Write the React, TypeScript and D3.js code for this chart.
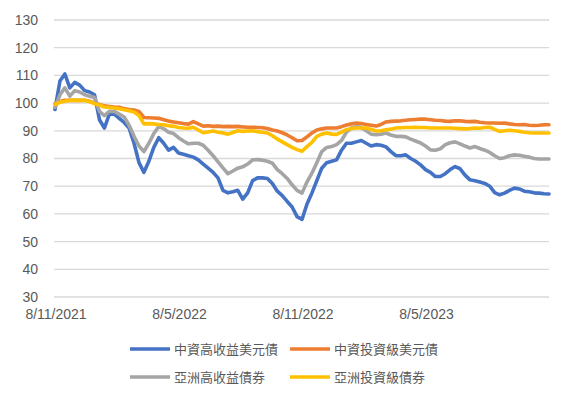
import React from "react";
import * as d3 from "d3";

const tickLabels = ["8/11/2021", "8/5/2022", "8/11/2022", "8/5/2023"];
const tickIndex = [0, 25, 50, 75];
const yTicks = [30, 40, 50, 60, 70, 80, 90, 100, 110, 120, 130];

const seriesNames = ["中資高收益美元債", "中資投資級美元債", "亞洲高收益債券", "亞洲投資級債券"];
const seriesColors = ["#4472C4", "#ED7D31", "#A5A5A5", "#FFC000"];

const cnHighYield = [
  97.7, 108, 110.5, 105.5, 107.5, 106.5, 104.5, 104, 103, 94,
  91, 96, 96, 94.5, 93, 91, 85.5, 78.5, 75, 79,
  84, 87.5, 85.5, 83, 84, 82, 81.5, 81, 80.5, 79.5,
  78, 76.5, 75, 73, 68.5, 67.6, 68, 68.5, 65.3, 67.6,
  72, 73, 73, 72.8, 71, 68.2, 66.6, 64.5, 62.5, 59,
  58, 63.5, 67.5, 72, 76.5, 78.5, 79, 79.5, 83, 85.5,
  85.5, 86, 86.5, 85.5, 84.5, 85, 84.8, 84.2, 82.5, 81,
  81, 81.3, 80, 79, 77.7, 76, 75, 73.5, 73.5, 74.5,
  76, 77.1, 76.3, 74, 72.3, 72, 71.5, 71, 70, 67.7,
  66.9, 67.5, 68.5, 69.3, 69, 68.2, 68, 67.6, 67.5, 67.3, 67.2,
];
const cnInvGrade = [
  99.8, 100.6, 101, 101, 101, 101, 101, 100.7, 100, 99.5,
  99, 98.8, 98.6, 98.5, 98, 97.7, 97.5, 97, 94.8, 94.7,
  94.6, 94.5, 94, 93.5, 93.2, 92.9, 92.6, 92.4, 93.3, 92.5,
  91.7, 91.8, 91.6, 91.7, 91.5, 91.6, 91.5, 91.6, 91.4, 91.3,
  91.3, 91.2, 91.1, 90.8, 90.3, 89.9, 89.3, 88.5, 87.5, 86.4,
  86.5, 87.8, 89.2, 90.3, 90.7, 91, 91, 91, 91.5, 92.1,
  92.5, 92.8, 92.6, 92.3, 92, 91.7, 92.3, 93.2, 93.4, 93.5,
  93.6, 93.8, 94, 94.1, 94.2, 94.2, 94, 93.8, 93.7, 93.5,
  93.4, 93.6, 93.6, 93.4, 93.3, 93.4, 93.1, 92.9, 92.8, 92.8,
  92.7, 92.8, 92.5, 92.3, 92.2, 92.3, 92, 91.9, 92, 92.2, 92.2,
];
const asiaHighYield = [
  98.5, 103, 105.5, 102.5, 104.5, 104, 103, 102.5, 102, 97,
  95.5, 97, 97, 96, 95, 92, 88, 84.5, 82.5, 85.5,
  89, 91.5, 90.8, 89.5, 89, 87.5, 86.3, 85.3, 85.5, 85.5,
  84.8, 83, 81, 78.8, 76.6, 74.5, 75.5, 76.5, 77, 78,
  79.5, 79.6, 79.4, 79, 78.3, 76, 74.5, 72.8, 70.5, 68.5,
  67.5, 71.5, 74.7, 78.5, 82.5, 84, 84.3, 85, 86.5, 89.5,
  91, 91.5, 91.2, 90, 88.8, 88.6, 88.8, 89.2, 88.5, 88,
  88, 87.8, 87, 86.3, 85.6, 84.5, 83.1, 83, 83.5, 85,
  85.7, 86, 85.3, 84.5, 83.8, 84.3, 83.6, 83, 82.2, 81,
  80, 80.3, 81, 81.3, 81.2, 80.8, 80.5, 80, 79.8, 79.8, 79.8,
];
const asiaInvGrade = [
  99.5, 100.3, 100.7, 101, 101, 101, 101, 100.5, 99.8, 99.3,
  98.6, 98.4, 98.2, 98, 97.6, 97.2, 96.8, 95.5, 92.5, 92.6,
  92.5, 92.3, 92.2, 91.8, 91.6, 91.2, 91, 90.9, 91.3, 90.3,
  89.3, 89.6, 89.9, 89.5, 89.2, 88.8, 89.4, 90, 89.8, 89.9,
  90, 89.7, 89.5, 89.2, 88.2, 87, 86, 85, 84, 83.2,
  82.6, 84.3, 85.8, 88, 88.8, 89.2, 88.8, 88.7, 89.5, 90.4,
  90.8, 91, 91, 91, 90.5, 89.9, 90, 90.4, 90.6, 91,
  91.1, 91.2, 91.2, 91.3, 91.2, 91.2, 91, 91, 91, 91,
  91, 90.9, 90.8, 90.7, 90.8, 91, 90.9, 91.2, 91.3, 90.5,
  89.8, 90, 90.2, 90, 89.8, 89.5, 89.3, 89.2, 89.2, 89.2, 89.2,
];

const allSeries = [cnHighYield, cnInvGrade, asiaHighYield, asiaInvGrade];

export default function App() {
  const W = 570, H = 401;
  const x = d3.scaleLinear().domain([0, cnHighYield.length - 1]).range([55, 549]);
  const y = d3.scaleLinear().domain([30, 130]).range([297, 20]);
  const line = d3
    .line<number>()
    .x((_, i) => x(i))
    .y((d) => y(d));
  const font = "'Liberation Sans', Arial, sans-serif";
  const cjk = "'Noto Sans CJK TC', 'Noto Sans CJK SC', sans-serif";
  const legendPos = [
    { x: 130, y: 349 },
    { x: 290, y: 349 },
    { x: 130, y: 377 },
    { x: 290, y: 377 },
  ];
  return (
    <svg width={W} height={H} style={{ position: "absolute", left: 0, top: 0, background: "#fff" }}>
      {yTicks.map((t) => (
        <g key={t}>
          <line x1={54} x2={549} y1={y(t)} y2={y(t)} stroke="#d9d9d9" strokeWidth={1.3} />
          <text x={38} y={y(t)} dy="0.35em" textAnchor="end" fontFamily={font} fontSize={14} fill="#595959">
            {t}
          </text>
        </g>
      ))}
      {tickIndex.map((ti, k) => (
        <text key={k} x={x(ti) + 1} y={319} textAnchor="middle" fontFamily={font} fontSize={14} fill="#595959">
          {tickLabels[k]}
        </text>
      ))}
      {allSeries.map((s, k) => (
        <path
          key={k}
          d={line(s) || ""}
          fill="none"
          stroke={seriesColors[k]}
          strokeWidth={3.6}
          strokeLinejoin="round"
          strokeLinecap="round"
        />
      ))}
      {seriesNames.map((n, k) => (
        <g key={n}>
          <line
            x1={legendPos[k].x}
            x2={legendPos[k].x + 40}
            y1={legendPos[k].y}
            y2={legendPos[k].y}
            stroke={seriesColors[k]}
            strokeWidth={3.6}
          />
          <text
            x={legendPos[k].x + 44}
            y={legendPos[k].y}
            dy="0.35em"
            fontFamily={cjk}
            fontSize={13}
            fill="#595959"
          >
            {n}
          </text>
        </g>
      ))}
    </svg>
  );
}
